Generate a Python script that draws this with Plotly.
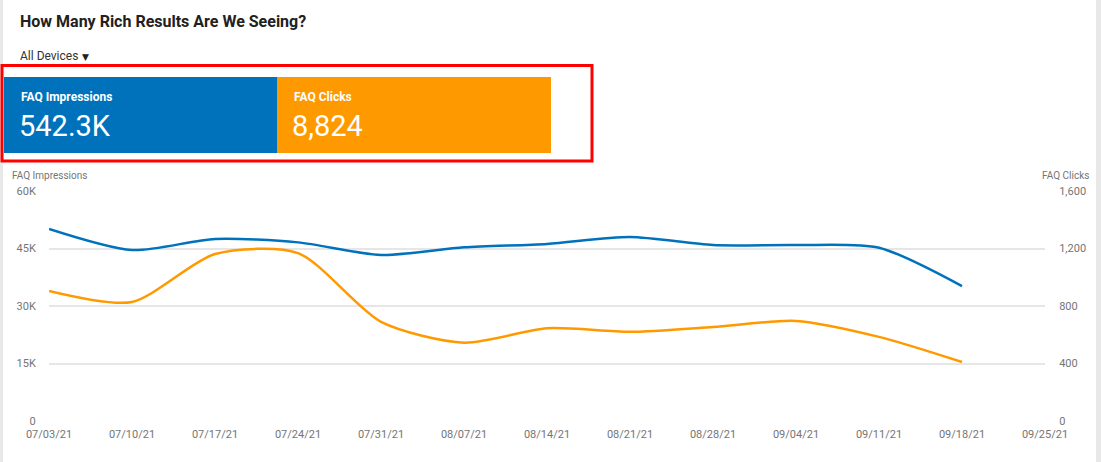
import plotly.graph_objects as go

# weekly series
weeks = ['2021-07-03', '2021-07-10', '2021-07-17', '2021-07-24', '2021-07-31', '2021-08-07',
         '2021-08-14', '2021-08-21', '2021-08-28', '2021-09-04', '2021-09-11', '2021-09-18']
faq_impressions = [50100, 44600, 47500, 46600, 43300, 45300, 46200, 48000, 45900, 45900, 45200, 35200]
faq_clicks = [905, 828, 1162, 1168, 690, 545, 645, 620, 654, 696, 585, 410]

tick_dates = ['2021-07-03', '2021-07-10', '2021-07-17', '2021-07-24', '2021-07-31', '2021-08-07',
              '2021-08-14', '2021-08-21', '2021-08-28', '2021-09-04', '2021-09-11', '2021-09-18',
              '2021-09-25']
left_ticks = [0, 15000, 30000, 45000, 60000]
left_labels = ['0', '15K', '30K', '45K', '60K']
right_ticks = [0, 400, 800, 1200, 1600]
right_labels = ['0', '400', '800', '1,200', '1,600']

total_impressions = '542.3K'
total_clicks = '8,824'

BLUE = '#0072bc'
ORANGE = '#ff9900'
W, H = 1101, 462
# plot area in pixels
X0, X1, Y0, Y1 = 49, 1045, 191, 421


def px(x):
    return (x - X0) / (X1 - X0)


def py(y):
    return (Y1 - y) / (Y1 - Y0)


fig = go.Figure()
fig.add_trace(go.Scatter(x=weeks, y=faq_impressions, mode='lines', name='FAQ Impressions',
                         line=dict(color=BLUE, width=2.5, shape='spline', smoothing=0.75)))
fig.add_trace(go.Scatter(x=weeks, y=faq_clicks, mode='lines', name='FAQ Clicks', yaxis='y2',
                         line=dict(color=ORANGE, width=2.5, shape='spline', smoothing=0.75)))

shapes = [
    # grey page edges
    dict(type='rect', xref='paper', yref='paper', x0=px(0), x1=px(3), y0=py(H), y1=py(0),
         fillcolor='#e8e8e8', line_width=0, layer='below'),
    dict(type='rect', xref='paper', yref='paper', x0=px(1096), x1=px(W), y0=py(H), y1=py(0),
         fillcolor='#e8e8e8', line_width=0, layer='below'),
    # scorecards
    dict(type='rect', xref='paper', yref='paper', x0=px(4), x1=px(277), y0=py(153), y1=py(77),
         fillcolor=BLUE, line_width=0),
    dict(type='rect', xref='paper', yref='paper', x0=px(277), x1=px(551), y0=py(153), y1=py(77),
         fillcolor=ORANGE, line_width=0),
    # red highlight box
    dict(type='rect', xref='paper', yref='paper', x0=px(2), x1=px(592), y0=py(161), y1=py(65.5),
         fillcolor='rgba(0,0,0,0)', line=dict(color='#ff0000', width=3)),
]

font = 'Roboto, Arial, sans-serif'
annotations = [
    dict(text='<b>How Many Rich Results Are We Seeing?</b>', x=px(18), y=py(21), xanchor='left',
         yanchor='middle', font=dict(size=16, color='#212121', family=font)),
    dict(text='All Devices', x=px(18), y=py(56), xanchor='left', yanchor='middle',
         font=dict(size=12, color='#333333', family=font)),
    dict(text='\u25bc', x=px(80), y=py(57), xanchor='left', yanchor='middle',
         font=dict(size=9, color='#212121', family='DejaVu Sans')),
    dict(text='<b>FAQ Impressions</b>', x=px(19), y=py(97), xanchor='left', yanchor='middle',
         font=dict(size=12, color='white', family=font)),
    dict(text=total_impressions, x=px(17), y=py(126), xanchor='left', yanchor='middle',
         font=dict(size=29, color='white', family=font)),
    dict(text='<b>FAQ Clicks</b>', x=px(292), y=py(97), xanchor='left', yanchor='middle',
         font=dict(size=12, color='white', family=font)),
    dict(text=total_clicks, x=px(290), y=py(126), xanchor='left', yanchor='middle',
         font=dict(size=29, color='white', family=font)),
    dict(text='FAQ Impressions', x=px(10), y=py(175), xanchor='left', yanchor='middle',
         font=dict(size=10, color='#757575', family=font)),
    dict(text='FAQ Clicks', x=px(1091), y=py(175), xanchor='right', yanchor='middle',
         font=dict(size=10, color='#757575', family=font)),
]
for a in annotations:
    a.update(xref='paper', yref='paper', showarrow=False)

fig.update_layout(
    width=W, height=H,
    margin=dict(l=X0, r=W - X1, t=Y0, b=H - Y1, pad=0),
    paper_bgcolor='white', plot_bgcolor='white',
    showlegend=False,
    font=dict(family=font, size=11, color='#757575'),
    xaxis=dict(type='date', range=['2021-07-03', '2021-09-25'], tickvals=tick_dates,
               tickformat='%m/%d/%y', showgrid=False, zeroline=False, showline=False,
               ticks='outside', ticklen=3, tickcolor='rgba(0,0,0,0)',
               tickfont=dict(size=11, color='#757575')),
    yaxis=dict(range=[0, 60000], tickvals=left_ticks, ticktext=left_labels, showgrid=True,
               gridcolor='#e6e6e6', gridwidth=1.5, zeroline=False, showline=False, ticks='outside',
               ticklen=10, tickcolor='rgba(0,0,0,0)', tickfont=dict(size=11, color='#757575')),
    yaxis2=dict(range=[0, 1600], tickvals=right_ticks, ticktext=right_labels, overlaying='y',
                side='right', showgrid=False, zeroline=False, showline=False, ticks='outside',
                ticklen=11, tickcolor='rgba(0,0,0,0)', tickfont=dict(size=11, color='#757575')),
    shapes=shapes, annotations=annotations,
)

fig.write_html('out.html', config={'displayModeBar': False},
               post_script="document.body.style.margin='0';")
